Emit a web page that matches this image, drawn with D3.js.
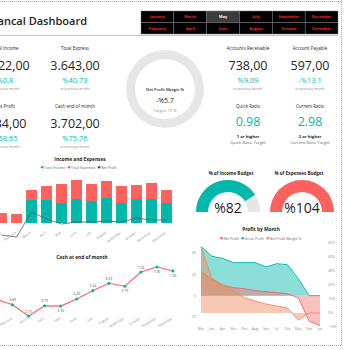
<!DOCTYPE html>
<html>
<head>
<meta charset="utf-8">
<script src="https://cdn.jsdelivr.net/npm/d3@7"></script>
<style>
body { margin: 0; background: #fff; overflow: hidden; }
svg { display: block; font-family: "Segoe UI", "Open Sans", sans-serif; }
</style>
</head>
<body>
<div id="chart"></div>
<script>
// month slicer
const buttonRows = [
    ["January", "March", "May", "July", "September", "November"],
    ["February", "April", "June", "August", "October", "December"]
];
const selectedMonth = "May";

// cards
const kpiLabels = ["Total Income", "Total Express", "Net Profit", "Cash end of month", "Accounts Receivable", "Account Payable"];
const kpiValues = ["4.122,00", "3.643,00", "-234,00", "3.702,00", "738,00", "597,00"];
const kpiChanges = ["%0.8", "%40.73", "%58.65", "%75.76", "%9.09", "-%13.1"];

const ratioLabels = ["Quick Ratio", "Current Ratio"];
const ratioValues = [0.98, 2.98];
const ratioTargets = ["1 or higher", "2 or higher"];
const ratioSubs = ["Quick Ratio Target", "Current Ratio Target"];

const netProfitMargin = -5.7;
const marginTarget = 10;

const budgetLabels = ["% of Income Budget", "% of Expenses Budget"];
const budgetValues = [82, 104];

// income and expenses
const months = ["January", "February", "March", "April", "May", "June", "July", "August", "September", "October", "November", "December"];
const totalIncome = [0, 0, 3450, 3450, 3000, 3600, 3300, 3750, 3000, 3600, 3600, 3000];
const totalExpenses = [1500, 1350, 1500, 2100, 2850, 2850, 2550, 2550, 2550, 2100, 2400, 1950];
const netProfit = [-1800, -2100, 1650, 600, -150, 150, 150, 300, 150, 750, 450, 450];

// cash at end of month
const cashValues = [4.45, 3.89, 2.75, 3.79, 3.76, 4.49, 5.34, 6.09, 5.79, 7.24, 7.76, 7.36];
const cashLabelBelow = [4, 8, 10, 11];

// profit by month
const pbmMonths = ["Mar", "Jun", "Apr", "Nov", "Dec", "Aug", "Sep", "Jul", "Oct", "May", "Feb", "Jan"];
const pbmNetProfit = [22.5, 15, 10, 7.5, 6.6, 4.7, 3.8, 2.8, 1.9, -2, -24, -28];
const pbmGrossProfit = [46, 37, 35, 31, 31, 31, 27, 30, 29, 16, 0, 0];
const pbmMargin = [0.47, 0.25, 0.2, 0.16, 0.11, 0.086, 0.064, 0.05, 0.036, -0.05, 0, 0];
const leftTicks = [40, 20, 0, -20];
const rightTicks = [0.5, 0.4, 0.3, 0.2, 0.1, 0, -0.1];

const teal = "#01B8AA", red = "#FD625E", dark = "#252423", orange = "#F4875A";

const svg = d3.select("#chart")
    .append("svg")
    .attr("width", 350)
    .attr("height", 350);

// frame
const dotted = (x1, y1, x2, y2) => svg.append("line")
    .attr("x1", x1).attr("y1", y1).attr("x2", x2).attr("y2", y2)
    .attr("stroke", "#aaa").attr("stroke-width", 1).attr("stroke-dasharray", "1,1");
dotted(0, 1.5, 342, 1.5);
dotted(341.5, 0, 341.5, 346);
dotted(0, 345.5, 342, 345.5);

svg.append("text")
    .attr("x", 87).attr("y", 25)
    .attr("text-anchor", "end")
    .attr("font-size", 11).attr("font-weight", 600)
    .attr("fill", dark)
    .text("Financal Dashboard");

svg.append("line")
    .attr("x1", 0).attr("x2", 338).attr("y1", 35.5).attr("y2", 35.5)
    .attr("stroke", "#a9c8ea").attr("stroke-width", 1);

// slicer buttons
const bx = d3.scaleBand().domain(d3.range(6)).range([141, 338]);
buttonRows.forEach((row, r) => {
    const g = svg.append("g");
    g.selectAll("rect").data(row).enter().append("rect")
        .attr("x", (d, i) => bx(i))
        .attr("y", 11 + r * 11.5)
        .attr("width", bx.bandwidth())
        .attr("height", 11.5)
        .attr("fill", d => d === selectedMonth ? "#3c3c3c" : "#000")
        .attr("stroke", "#777").attr("stroke-width", 0.5);
    g.selectAll("text").data(row).enter().append("text")
        .attr("x", (d, i) => bx(i) + bx.bandwidth() / 2)
        .attr("y", 11 + r * 11.5 + 7.3)
        .attr("text-anchor", "middle")
        .attr("font-size", 3.8).attr("font-weight", 700)
        .attr("fill", d => d === selectedMonth ? "#fff" : "#ff2020")
        .text(d => d);
});

// cards
const txt = (x, y, size, color, s, weight) => svg.append("text")
    .attr("x", x).attr("y", y)
    .attr("text-anchor", "middle")
    .attr("font-size", size)
    .attr("font-weight", weight || 400)
    .attr("fill", color)
    .text(s);

const cardX = [5, 75, 5, 75, 248, 310];
const cardRow = [0, 0, 1, 1, 0, 0];
kpiLabels.forEach((label, i) => {
    const dy = cardRow[i] * 57.5;
    txt(cardX[i], 50 + dy, 4.5, dark, label);
    txt(cardX[i], 70 + dy, 12.5, dark, kpiValues[i]);
    txt(cardX[i], 83 + dy, 7.5, teal, kpiChanges[i]);
    txt(cardX[i], 90 + dy, 3.4, "#888", "vs previous month");
});

ratioLabels.forEach((label, i) => {
    const x = cardX[4 + i];
    txt(x, 108, 4.5, dark, label);
    txt(x, 126, 12.5, teal, ratioValues[i].toFixed(2));
    txt(x, 137.5, 4.2, dark, ratioTargets[i], 700);
    txt(x, 143.5, 4.2, "#666", ratioSubs[i]);
});

// donut
const donut = svg.append("g").attr("transform", "translate(165,89)");
const pie = d3.pie().sort(null);
const ring = d3.arc().innerRadius(30).outerRadius(39);
const donutData = [Math.max(netProfitMargin, 0), marginTarget - Math.max(netProfitMargin, 0)];
donut.selectAll("path").data(pie(donutData)).enter().append("path")
    .attr("d", ring)
    .attr("fill", (d, i) => i === 0 ? teal : "#e6e6e6");
txt(165, 91, 4, dark, "Net Profit Margin %", 600);
txt(165, 103, 7, dark, (netProfitMargin < 0 ? "-%" : "%") + Math.abs(netProfitMargin));
txt(165, 112, 4, "#888", "Target: " + marginTarget + " %");

// budget gauges
const gaugeX = [228, 302];
const gaugeColors = [teal, red];
const gaugeArc = d3.arc().innerRadius(20).outerRadius(32);
budgetValues.forEach((v, i) => {
    const g = svg.append("g").attr("transform", `translate(${gaugeX[i]},212)`);
    const a = d3.scaleLinear().domain([0, 100]).range([-Math.PI / 2, Math.PI / 2]).clamp(true);
    g.append("path")
        .attr("d", gaugeArc({ startAngle: -Math.PI / 2, endAngle: Math.PI / 2 }))
        .attr("fill", "#e6e6e6");
    g.append("path")
        .attr("d", gaugeArc({ startAngle: -Math.PI / 2, endAngle: a(v) }))
        .attr("fill", gaugeColors[i]);
    txt(gaugeX[i] + (i === 0 ? 3 : -3), 175, 4.5, dark, budgetLabels[i], 700);
    txt(gaugeX[i], 213, 14, dark, "%" + v);
});

// legend helper
const legend = (cx, y, items) => {
    const g = svg.append("g");
    let x = 0;
    items.forEach(([label, color]) => {
        g.append("circle").attr("cx", x + 1.3).attr("cy", y - 1.2).attr("r", 1.3).attr("fill", color);
        const t = g.append("text").attr("x", x + 3.2).attr("y", y)
            .attr("font-size", 3.5).attr("fill", "#666").text(label);
        x += 3.2 + t.node().getComputedTextLength() + 2.5;
    });
    g.attr("transform", `translate(${cx - x / 2},0)`);
};

// income and expenses
txt(80, 161, 4.8, dark, "Income and Expenses", 700);
legend(80, 168.5, [["Total Income", teal], ["Total Expenses", red], ["Net Profit", "#555"]]);

const x1 = d3.scaleBand().domain(months).range([-6, 174]).paddingInner(0.27).paddingOuter(0.135);
const y1 = d3.scaleLinear().domain([0, 6000]).range([223, 183]);

const ie = svg.append("g");
ie.selectAll("rect.inc").data(months).enter().append("rect")
    .attr("class", "inc")
    .attr("x", d => x1(d))
    .attr("width", x1.bandwidth())
    .attr("y", (d, i) => y1(totalIncome[i]))
    .attr("height", (d, i) => y1(0) - y1(totalIncome[i]))
    .attr("fill", teal);
ie.selectAll("rect.exp").data(months).enter().append("rect")
    .attr("class", "exp")
    .attr("x", d => x1(d))
    .attr("width", x1.bandwidth())
    .attr("y", (d, i) => y1(totalIncome[i] + totalExpenses[i]))
    .attr("height", (d, i) => y1(totalIncome[i]) - y1(totalIncome[i] + totalExpenses[i]))
    .attr("fill", red);
ie.append("path")
    .datum(netProfit)
    .attr("fill", "none")
    .attr("stroke", "#555")
    .attr("stroke-width", 0.8)
    .attr("d", d3.line().x((d, i) => x1(months[i]) + x1.bandwidth() / 2).y(d => y1(d)));
ie.selectAll("text").data(months).enter().append("text")
    .attr("transform", d => `translate(${x1(d) + x1.bandwidth() / 2},233) rotate(-35)`)
    .attr("text-anchor", "end")
    .attr("font-size", 3.4)
    .attr("fill", "#888")
    .text(d => d);

// cash at end of month
txt(82, 259, 4.8, dark, "Cash at end of month", 700);
const x2 = d3.scalePoint().domain(months).range([-3.5, 173]);
const y2 = d3.scaleLinear().domain([2.75, 7.76]).range([316, 267]);
const cash = svg.append("g");
cash.append("path")
    .datum(cashValues)
    .attr("fill", "none")
    .attr("stroke", red)
    .attr("stroke-width", 1.1)
    .attr("d", d3.line().x((d, i) => x2(months[i])).y(d => y2(d)));
cash.selectAll("circle").data(cashValues).enter().append("circle")
    .attr("cx", (d, i) => x2(months[i]))
    .attr("cy", d => y2(d))
    .attr("r", 1.6)
    .attr("fill", teal);
cash.selectAll("text.val").data(cashValues).enter().append("text")
    .attr("class", "val")
    .attr("x", (d, i) => x2(months[i]))
    .attr("y", (d, i) => y2(d) + (cashLabelBelow.includes(i) ? 6 : -3.5))
    .attr("text-anchor", "middle")
    .attr("font-size", 3.4)
    .attr("fill", "#555")
    .text(d => d.toFixed(2));
cash.selectAll("text.mon").data(months).enter().append("text")
    .attr("class", "mon")
    .attr("transform", d => `translate(${x2(d)},319) rotate(-30)`)
    .attr("text-anchor", "end")
    .attr("font-size", 3.4)
    .attr("fill", "#888")
    .text(d => d);

// profit by month
txt(261, 231, 4.8, dark, "Profit by Month", 700);
legend(262, 239.5, [["Net Profit", red], ["Gross Profit", teal], ["Net Profit Margin %", orange]]);

const x3 = d3.scalePoint().domain(pbmMonths).range([201, 320]);
const yL = d3.scaleLinear().domain([-20, 40]).range([317, 253]);
const yR = d3.scaleLinear().domain([-0.1, 0.5]).range([327, 243]);
const pbm = svg.append("g");

const drawArea = (vals, scale, color, op) => {
    pbm.append("path")
        .datum(vals)
        .attr("fill", color).attr("fill-opacity", op)
        .attr("d", d3.area().x((d, i) => x3(pbmMonths[i])).y0(scale(0)).y1(d => scale(d)));
    pbm.append("path")
        .datum(vals)
        .attr("fill", "none").attr("stroke", color).attr("stroke-width", 0.9)
        .attr("d", d3.line().x((d, i) => x3(pbmMonths[i])).y(d => scale(d)));
};
drawArea(pbmGrossProfit, yL, teal, 0.45);
drawArea(pbmNetProfit, yL, red, 0.4);
drawArea(pbmMargin, yR, orange, 0.45);

pbm.selectAll("text.l").data(leftTicks).enter().append("text")
    .attr("class", "l")
    .attr("x", 196).attr("y", d => yL(d) + 1.2)
    .attr("text-anchor", "end")
    .attr("font-size", 3.4).attr("fill", "#888")
    .text(d => d);
pbm.selectAll("text.r").data(rightTicks).enter().append("text")
    .attr("class", "r")
    .attr("x", 328).attr("y", d => yR(d) + 1.2)
    .attr("font-size", 3.4).attr("fill", "#888")
    .text(d => d3.format(".0%")(d));
pbm.selectAll("text.m").data(pbmMonths).enter().append("text")
    .attr("class", "m")
    .attr("x", d => x3(d)).attr("y", 330)
    .attr("text-anchor", "middle")
    .attr("font-size", 3.4).attr("fill", "#888")
    .text(d => d);
</script>
</body>
</html>
